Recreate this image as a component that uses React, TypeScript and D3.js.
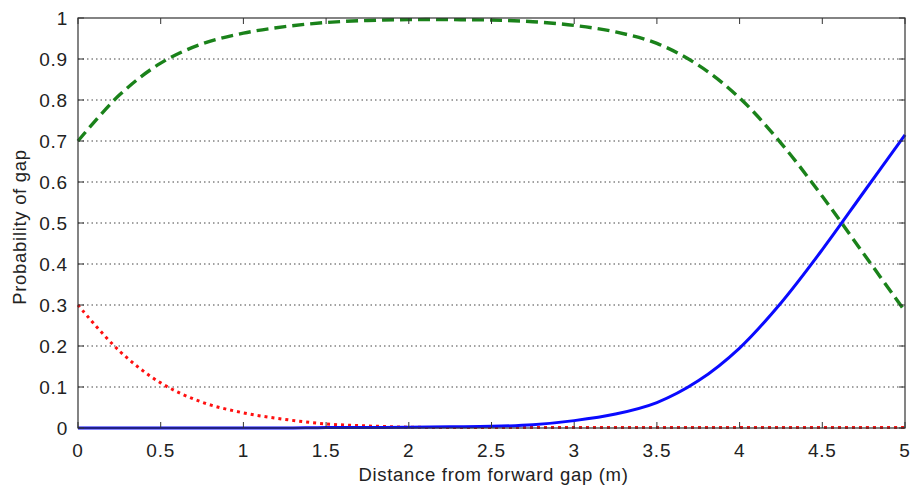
import { useEffect, useRef } from 'react';
import * as d3 from 'd3';

// distance samples (m)
const distance = [0, 0.25, 0.5, 0.75, 1, 1.25, 1.5, 1.75, 2, 2.25, 2.5, 2.75, 3, 3.25, 3.5, 3.75, 4, 4.25, 4.5, 4.75, 5];
// series
const greenDashed = [0.7, 0.812, 0.89, 0.937, 0.963, 0.979, 0.989, 0.994, 0.996, 0.996, 0.995, 0.991, 0.982, 0.966, 0.938, 0.885, 0.805, 0.695, 0.565, 0.425, 0.285];
const blueSolid = [0, 0, 0, 0, 0, 0, 0.001, 0.001, 0.002, 0.003, 0.004, 0.008, 0.018, 0.034, 0.062, 0.115, 0.195, 0.305, 0.435, 0.575, 0.715];
const redDotted = [0.3, 0.188, 0.11, 0.063, 0.037, 0.021, 0.01, 0.005, 0.002, 0.001, 0.001, 0.001, 0.001, 0.001, 0.001, 0.001, 0.001, 0.001, 0.001, 0.001, 0.001];

const xTicks = [0, 0.5, 1, 1.5, 2, 2.5, 3, 3.5, 4, 4.5, 5];
const yTicks = [0, 0.1, 0.2, 0.3, 0.4, 0.5, 0.6, 0.7, 0.8, 0.9, 1];

const W = 910;
const H = 486;
const FONT = 'Liberation Sans, Arial, sans-serif';

export default function App() {
    const svgRef = useRef<SVGSVGElement>(null);

    useEffect(() => {
        if (!svgRef.current) return;
        const svg = d3.select(svgRef.current);
        svg.selectAll('*').remove();

        const margin = { top: 18, right: 5, bottom: 58, left: 78 };
        const w = W - margin.left - margin.right;
        const h = H - margin.top - margin.bottom;
        const g = svg.append('g').attr('transform', `translate(${margin.left},${margin.top})`);

        const x = d3.scaleLinear().domain([0, 5]).range([0, w]);
        const y = d3.scaleLinear().domain([0, 1]).range([h, 0]);

        // horizontal dotted grid
        g.selectAll('line.grid')
            .data(yTicks.filter(t => t > 0 && t < 1))
            .join('line')
            .attr('class', 'grid')
            .attr('x1', 0).attr('x2', w)
            .attr('y1', d => y(d)).attr('y2', d => y(d))
            .attr('stroke', '#444')
            .attr('stroke-width', 1)
            .attr('stroke-dasharray', '1.5,3');

        const line = (vals: number[]) => d3.line<number>()
            .x((_, i) => x(distance[i]))
            .y(d => y(Math.max(0, d)))
            .curve(d3.curveCatmullRom.alpha(0.5))(vals);

        g.append('path')
            .attr('d', line(redDotted))
            .attr('fill', 'none')
            .attr('stroke', '#ff1010')
            .attr('stroke-width', 3)
            .attr('stroke-dasharray', '3,4');

        g.append('path')
            .attr('d', line(greenDashed))
            .attr('fill', 'none')
            .attr('stroke', '#1a821a')
            .attr('stroke-width', 3.4)
            .attr('stroke-dasharray', '12,6');

        g.append('path')
            .attr('d', line(blueSolid))
            .attr('fill', 'none')
            .attr('stroke', '#0a0aff')
            .attr('stroke-width', 3);

        // box
        g.append('rect')
            .attr('width', w).attr('height', h)
            .attr('fill', 'none')
            .attr('stroke', '#333')
            .attr('stroke-width', 1.2);

        const tickLen = 6;
        const tickStyle = (sel: any) => sel
            .style('font-family', FONT).style('font-size', '19px')
            .style('letter-spacing', '0.8px').style('fill', '#222');

        // x ticks (bottom and top, inward)
        xTicks.forEach(t => {
            g.append('line').attr('x1', x(t)).attr('x2', x(t)).attr('y1', h).attr('y2', h - tickLen).attr('stroke', '#333');
            g.append('line').attr('x1', x(t)).attr('x2', x(t)).attr('y1', 0).attr('y2', tickLen).attr('stroke', '#333');
            g.append('text')
                .attr('x', x(t)).attr('y', h + 29)
                .attr('text-anchor', 'middle')
                .call(tickStyle)
                .text(String(t));
        });
        // y ticks (left and right, inward)
        yTicks.forEach(t => {
            g.append('line').attr('x1', 0).attr('x2', tickLen).attr('y1', y(t)).attr('y2', y(t)).attr('stroke', '#333');
            g.append('line').attr('x1', w).attr('x2', w - tickLen).attr('y1', y(t)).attr('y2', y(t)).attr('stroke', '#333');
            g.append('text')
                .attr('x', -10).attr('y', y(t))
                .attr('dy', '0.36em')
                .attr('text-anchor', 'end')
                .call(tickStyle)
                .text(String(t));
        });

        g.append('text')
            .attr('x', w / 2 + 2).attr('y', h + 53)
            .attr('text-anchor', 'middle')
            .style('font-family', FONT).style('font-size', '18.5px')
            .style('letter-spacing', '0.7px').style('fill', '#222')
            .text('Distance from forward gap (m)');

        g.append('text')
            .attr('transform', 'rotate(-90)')
            .attr('x', -h / 2 - 4).attr('y', -52)
            .attr('text-anchor', 'middle')
            .style('font-family', FONT).style('font-size', '18.5px')
            .style('letter-spacing', '0.7px').style('fill', '#222')
            .text('Probability of gap');
    }, []);

    return (
        <div style={{ position: 'fixed', left: 0, top: 0 }}>
            <svg ref={svgRef} width={W} height={H} style={{ display: 'block', background: '#fff' }} />
        </div>
    );
}
